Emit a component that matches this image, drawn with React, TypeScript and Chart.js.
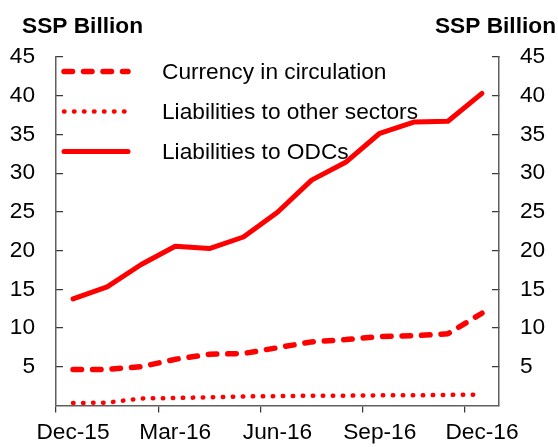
import React, { useEffect, useRef } from 'react';
import { Chart, registerables } from 'chart.js';

Chart.register(...registerables);

const categories = [
  'Dec-15', 'Jan-16', 'Feb-16', 'Mar-16', 'Apr-16', 'May-16', 'Jun-16',
  'Jul-16', 'Aug-16', 'Sep-16', 'Oct-16', 'Nov-16', 'Dec-16',
];
const shownTickLabels = ['Dec-15', 'Mar-16', 'Jun-16', 'Sep-16', 'Dec-16'];

const currencyInCirculation = [4.65, 4.65, 5.0, 5.95, 6.6, 6.7, 7.45, 8.2, 8.5, 8.9, 9.0, 9.25, 11.9];
const liabilitiesOtherSectors = [0.3, 0.35, 0.9, 0.95, 1.05, 1.15, 1.2, 1.25, 1.25, 1.3, 1.3, 1.35, 1.4];
const liabilitiesODCs = [13.75, 15.3, 18.2, 20.55, 20.25, 21.75, 24.95, 29.1, 31.4, 35.15, 36.6, 36.7, 40.3];

const seriesNames = ['Currency in circulation', 'Liabilities to other sectors', 'Liabilities to ODCs'];
const axisTitle = 'SSP Billion';

const FONT = '"Liberation Sans", Arial, sans-serif';
const FONT_SIZE = 22.7;
const AXIS_COLOR = '#5f5f5f';
const TICK_COLOR = '#3a3a3a';
const TEXT_COLOR = '#000000';
const RED = '#ff0000';
const CLEAR = 'rgba(0,0,0,0)';

export default function App() {
  const ref = useRef<HTMLCanvasElement>(null);

  useEffect(() => {
    const canvas = ref.current;
    if (!canvas) return;

    const titlesPlugin = {
      id: 'axisTitles',
      afterDraw(chart: any) {
        const { ctx, chartArea } = chart;
        ctx.save();
        ctx.fillStyle = TEXT_COLOR;
        ctx.font = `bold ${FONT_SIZE}px ${FONT}`;
        ctx.textBaseline = 'middle';
        ctx.textAlign = 'left';
        ctx.fillText(axisTitle, chartArea.left - 34, chartArea.top - 30);
        ctx.textAlign = 'right';
        ctx.fillText(axisTitle, chartArea.right + 57, chartArea.top - 30);
        ctx.restore();
      },
    };

    const legendPlugin = {
      id: 'insideLegend',
      afterDraw(chart: any) {
        const { ctx, chartArea } = chart;
        ctx.save();
        chart.data.datasets.forEach((ds: any, i: number) => {
          const y = chartArea.top + 14.5 + i * 40;
          ctx.beginPath();
          ctx.strokeStyle = ds.borderColor;
          ctx.lineWidth = ds.borderWidth;
          ctx.lineCap = 'round';
          ctx.setLineDash(ds.borderDash || []);
          ctx.moveTo(chartArea.left + 8, y);
          ctx.lineTo(chartArea.left + 72, y);
          ctx.stroke();
          ctx.setLineDash([]);
          ctx.fillStyle = TEXT_COLOR;
          ctx.font = `${FONT_SIZE}px ${FONT}`;
          ctx.textBaseline = 'middle';
          ctx.textAlign = 'left';
          ctx.fillText(ds.label, chartArea.left + 106, y + 1);
        });
        ctx.restore();
      },
    };

    const yScale = (position: 'left' | 'right', width: number) => ({
      type: 'linear',
      position,
      min: 0,
      max: 45,
      ticks: {
        stepSize: 5,
        padding: 28,
        color: TEXT_COLOR,
        font: { family: FONT, size: FONT_SIZE },
        callback: (v: any) => (v === 0 ? '' : String(v)),
      },
      grid: {
        drawOnChartArea: false,
        drawTicks: true,
        tickLength: -7,
        lineWidth: 1.25,
        color: (c: any) => (c.tick && c.tick.value === 0 ? CLEAR : TICK_COLOR),
      },
      border: { display: true, color: AXIS_COLOR, width: 1.5 },
      afterFit: (s: any) => {
        s.width = width;
      },
    });

    const chart = new Chart(canvas, {
      type: 'line',
      data: {
        labels: categories,
        datasets: [
          {
            label: seriesNames[0],
            data: currencyInCirculation,
            borderColor: RED,
            borderWidth: 5.5,
            borderDash: [8.5, 11],
            borderCapStyle: 'round',
            borderJoinStyle: 'round',
            pointRadius: 0,
            fill: false,
            tension: 0,
            yAxisID: 'y',
          },
          {
            label: seriesNames[1],
            data: liabilitiesOtherSectors,
            borderColor: RED,
            borderWidth: 4.5,
            borderDash: [0.5, 9.5],
            borderCapStyle: 'round',
            borderJoinStyle: 'round',
            pointRadius: 0,
            fill: false,
            tension: 0,
            yAxisID: 'y',
          },
          {
            label: seriesNames[2],
            data: liabilitiesODCs,
            borderColor: RED,
            borderWidth: 5,
            borderCapStyle: 'round',
            borderJoinStyle: 'round',
            pointRadius: 0,
            fill: false,
            tension: 0,
            yAxisID: 'y',
          },
        ],
      },
      options: {
        animation: false,
        responsive: false,
        maintainAspectRatio: false,
        layout: { padding: { top: 57, left: 0, right: 0, bottom: 0 } },
        plugins: {
          legend: { display: false },
          tooltip: { enabled: false },
        },
        scales: {
          x: {
            type: 'category',
            offset: true,
            grid: {
              offset: true,
              drawOnChartArea: false,
              drawTicks: true,
              tickLength: 7,
              lineWidth: 1.25,
              color: (c: any) => (typeof c.index === 'number' && c.index % 3 === 0 ? TICK_COLOR : CLEAR),
            },
            border: { display: true, color: AXIS_COLOR, width: 1.5 },
            ticks: {
              autoSkip: false,
              maxRotation: 0,
              minRotation: 0,
              padding: 7,
              color: TEXT_COLOR,
              font: { family: FONT, size: FONT_SIZE },
              callback: (_v: any, i: number) =>
                shownTickLabels.includes(categories[i]) ? categories[i] : '',
            },
            afterFit: (s: any) => {
              s.height = 38;
            },
          },
          y: yScale('left', 56) as any,
          y2: yScale('right', 59) as any,
        },
      } as any,
      plugins: [titlesPlugin, legendPlugin],
    });

    return () => chart.destroy();
  }, []);

  return (
    <div style={{ position: 'absolute', left: 0, top: 0, width: 558, height: 447, background: '#fff' }}>
      <canvas ref={ref} width={558} height={447} style={{ display: 'block' }} />
    </div>
  );
}
